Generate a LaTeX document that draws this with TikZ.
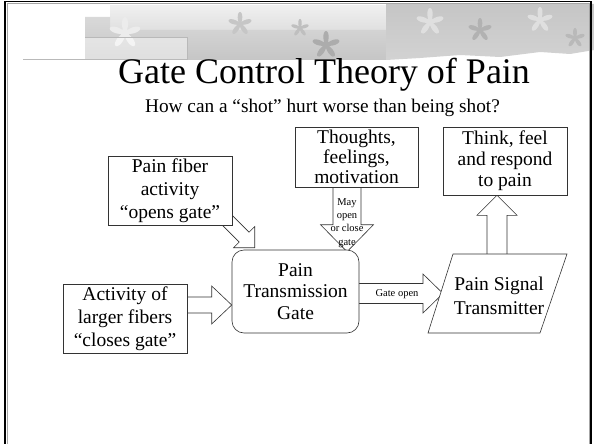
\documentclass[tikz,border=0pt]{standalone}
\usepackage{fontspec}
\setmainfont{Liberation Serif}
\usetikzlibrary{calc}
\pgfdeclarelayer{background}
\pgfsetlayers{background,main}
\newcommand{\blockarr}[5]{% #1 tail, #2 tip, #3 shaft half width, #4 head half width, #5 head length (all pt)
  \coordinate (ba-s) at (#1);
  \coordinate (ba-t) at (#2);
  \coordinate (ba-p) at ($(ba-t)!#5pt!(ba-s)$);
  \draw[blockarrow] ($(ba-s)!#3pt!90:(ba-t)$) -- ($(ba-p)!#3pt!-90:(ba-s)$) -- ($(ba-p)!#4pt!-90:(ba-s)$)
    -- (ba-t) -- ($(ba-p)!#4pt!90:(ba-s)$) -- ($(ba-p)!#3pt!90:(ba-s)$) -- ($(ba-s)!#3pt!-90:(ba-t)$) -- cycle;
}
\newcommand{\leafshape}[4]{%
  \fill[#4] plot[variable=\t,domain=0:355,samples=72]
    ({#1+#3*(0.62+0.38*cos(5*\t))*cos(\t+90)},{#2-#3*(0.62+0.38*cos(5*\t))*sin(\t+90)}) -- cycle;
}
\begin{document}
\begin{tikzpicture}[x=1pt,y=-1pt,
  box/.style={draw=black!80, fill=white, line width=0.6pt, inner sep=0pt, align=center,
              font=\fontsize{19.5}{23}\selectfont},
  blockarrow/.style={draw=black!80, fill=white, line width=0.6pt, line join=miter},
  small/.style={font=\fontsize{10.5}{13}\selectfont, inner sep=0pt, align=center}]
\useasboundingbox (0,0) rectangle (594,444);
% banner
\shade[top color=gray!12, bottom color=gray!30] (110,6) rectangle (386,40);
\shade[top color=gray!30, bottom color=gray!45] (85,17) -- (110,17) -- (110,30) -- (386,30) -- (386,60) -- (85,60) -- cycle;
\shade[top color=gray!45, bottom color=gray!35] (386,4) -- (594,4) -- (594,50) -- (570,54) -- (540,52) -- (500,57) -- (460,55) -- (420,58) -- (386,60) -- cycle;
\leafshape{125}{33}{16}{white!85!gray}
\leafshape{240}{24}{12}{gray!45}
\leafshape{326}{45}{14}{gray!65}
\leafshape{300}{28}{9}{gray!50}
\leafshape{430}{22}{14}{gray!25}
\leafshape{480}{30}{12}{gray!60}
\leafshape{540}{20}{13}{gray!25}
\leafshape{575}{38}{10}{gray!55}
\filldraw[draw=gray!55, fill=white, fill opacity=0.45, line width=0.6pt] (23,37) rectangle (187,59);
\fill[white] (23.3,37.3) rectangle (85,58.7);
% titles
\node[anchor=base, inner sep=0pt, font=\fontsize{36}{40}\selectfont] (title) at (324,84) {Gate Control Theory of Pain};
\node[anchor=base, inner sep=0pt, font=\fontsize{19.3}{23}\selectfont] (sub) at (322.5,112.5) {How can a “shot” hurt worse than being shot?};
% boxes
\node[box, minimum width=124pt, minimum height=69pt] (fiber) at (170,190.5) {Pain fiber\\activity\\“opens gate”};
\node[box, minimum width=123pt, minimum height=60pt, font=\fontsize{19.5}{20}\selectfont] (thought) at (356.5,157) {Thoughts,\\feelings,\\motivation};
\node[box, minimum width=124pt, minimum height=68pt, font=\fontsize{19.5}{21}\selectfont] (think) at (505,161) {Think, feel\\and respond\\to pain};
\node[box, minimum width=124pt, minimum height=69pt] (act) at (125,318.5) {Activity of\\larger fibers\\“closes gate”};
\node[box, minimum width=127pt, minimum height=83pt, rounded corners=12pt, font=\fontsize{19.5}{21.5}\selectfont] (gate) at (295.5,291.5) {Pain\\Transmission\\Gate};
\draw[draw=black!80, fill=white, line width=0.6pt] (453,254) -- (567,254) -- (540,333) -- (428,333) -- cycle;
\node[inner sep=0pt, align=center, font=\fontsize{19.5}{24}\selectfont] (trans) at (499,296) {Pain Signal\\Transmitter};
% block arrows
\begin{pgfonlayer}{background}
\coordinate (t1) at ($(gate.north west)+(23,-2)$);
\blockarr{$(t1)+(-45,-45)$}{t1}{7}{15}{15}
\blockarr{$(act.center)+(0,-13.5)$}{$(gate.west)+(0,13.5)$}{8}{19}{20}
\blockarr{$(thought.center)+(-9.5,0)$}{$(gate.north)+(51.5,2)$}{14}{26.5}{27}
\blockarr{$(gate.center)+(0,2)$}{$(trans.center)+(-56,-2.5)$}{10}{19.5}{20}
\blockarr{$(trans.center)+(-2,0)$}{$(think.south)+(-8,0)$}{10}{20}{20}
\end{pgfonlayer}
\node[small] (gateopen) at (397,294) {Gate open};
\node[small, font=\fontsize{10.5}{13.3}\selectfont] (may) at (347,223) {May\\open\\or close\\gate};
% frame
\draw[black, line width=1.6pt] (5,460) -- (5,1.5) -- (591,1.5) -- (591,460);
\draw[gray!70, line width=0.6pt] (6.8,460) -- (6.8,3.3) -- (589.2,3.3) -- (589.2,460);
\end{tikzpicture}
\end{document}
